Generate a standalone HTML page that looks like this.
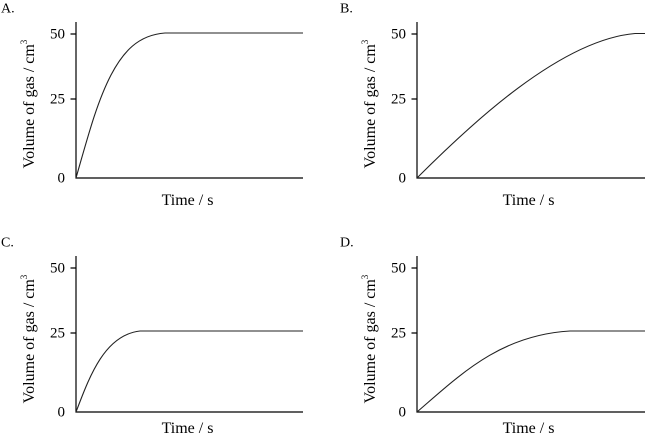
<!DOCTYPE html>
<html>
<head>
<meta charset="utf-8">
<style>
  html, body { margin: 0; padding: 0; background: #fff; }
  svg { display: block; }
  text { font-family: "Liberation Serif", "Times New Roman", serif; fill: #000; }
  .t { font-size: 14px; }
  .tick { font-size: 15px; text-anchor: end; }
  .yl { font-size: 16px; text-anchor: middle; }
  .xl { font-size: 16px; text-anchor: middle; }
  .ax { stroke: #000; stroke-width: 1.2; fill: none; }
  .cv { stroke: #222; stroke-width: 1.1; fill: none; }
</style>
</head>
<body>
<svg width="651" height="441" viewBox="0 0 651 441" xmlns="http://www.w3.org/2000/svg">
  <!-- Panel A -->
  <text class="t" x="1" y="12.5">A.</text>
  <path class="ax" d="M76,22 V178 H303"/>
  <path class="ax" d="M70.5,34 H76 M70.5,99 H76"/>
  <text class="tick" x="65" y="38.5">50</text>
  <text class="tick" x="65" y="103.5">25</text>
  <text class="tick" x="65" y="182.5">0</text>
  <text class="yl" transform="translate(34,104) rotate(-90)">Volume of gas / cm<tspan dy="-7" font-size="9">3</tspan></text>
  <text class="xl" x="187.5" y="205">Time / s</text>
  <path class="cv" d="M76,178 C88,136 97,102 111,75 C123,52 138,35 165,33 L303,33"/>

  <!-- Panel B -->
  <text class="t" x="340" y="12.5">B.</text>
  <path class="ax" d="M417,22 V178 H645"/>
  <path class="ax" d="M411.5,34 H417 M411.5,99 H417"/>
  <text class="tick" x="406" y="38.5">50</text>
  <text class="tick" x="406" y="103.5">25</text>
  <text class="tick" x="406" y="182.5">0</text>
  <text class="yl" transform="translate(375,104) rotate(-90)">Volume of gas / cm<tspan dy="-7" font-size="9">3</tspan></text>
  <text class="xl" x="528.5" y="205">Time / s</text>
  <path class="cv" d="M417,178 C470,125 560,40 635,33.5 L645,33.5"/>

  <!-- Panel C -->
  <text class="t" x="1" y="246.5">C.</text>
  <path class="ax" d="M76,256 V412 H303"/>
  <path class="ax" d="M70.5,268 H76 M70.5,333 H76"/>
  <text class="tick" x="65" y="272.5">50</text>
  <text class="tick" x="65" y="337.5">25</text>
  <text class="tick" x="65" y="416.5">0</text>
  <text class="yl" transform="translate(34,339) rotate(-90)">Volume of gas / cm<tspan dy="-7" font-size="9">3</tspan></text>
  <text class="xl" x="187.5" y="433">Time / s</text>
  <path class="cv" d="M76,412 C90,375 105,335 140,331 L303,331"/>

  <!-- Panel D -->
  <text class="t" x="340" y="246.5">D.</text>
  <path class="ax" d="M417,256 V412 H645"/>
  <path class="ax" d="M411.5,268 H417 M411.5,333 H417"/>
  <text class="tick" x="406" y="272.5">50</text>
  <text class="tick" x="406" y="337.5">25</text>
  <text class="tick" x="406" y="416.5">0</text>
  <text class="yl" transform="translate(375,339) rotate(-90)">Volume of gas / cm<tspan dy="-7" font-size="9">3</tspan></text>
  <text class="xl" x="528.5" y="433">Time / s</text>
  <path class="cv" d="M417,412 C460,375 500,335 570,331 L645,331"/>
</svg>
</body>
</html>
